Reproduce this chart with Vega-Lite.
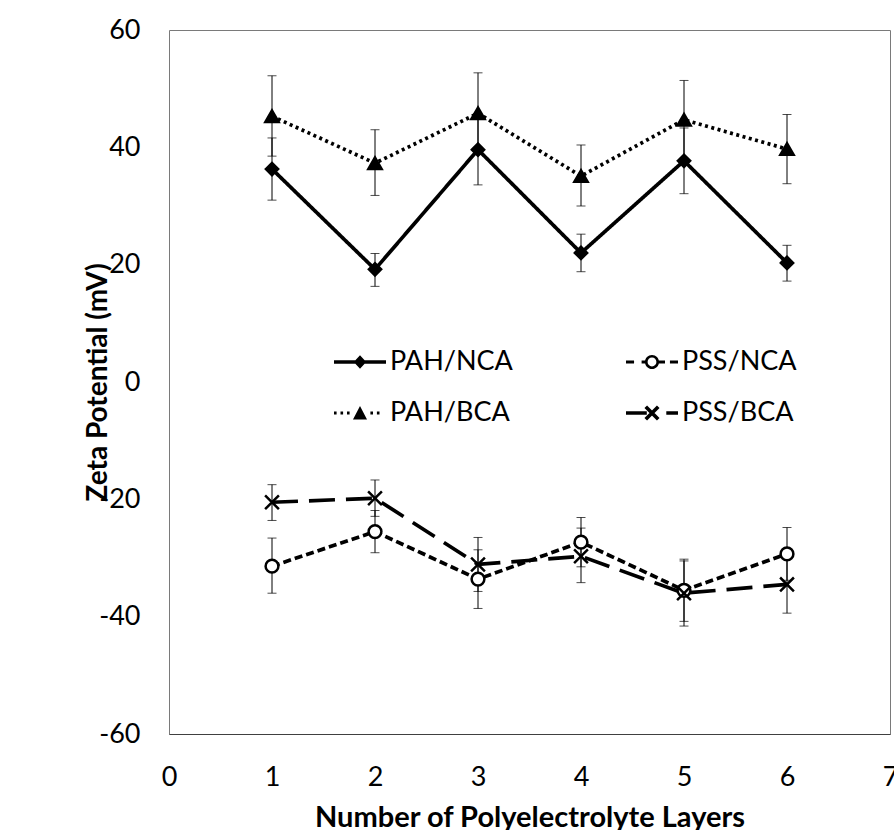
{
  "$schema": "https://vega.github.io/schema/vega-lite/v6.json",
  "width": 721,
  "height": 704,
  "autosize": {"type": "none"},
  "padding": {"left": 169, "top": 30, "right": 4, "bottom": 96},
  "background": "white",
  "config": {
    "view": {"stroke": "#7a7a7a", "strokeWidth": 1},
    "font": "Lato"
  },
  "data": {
    "values": [
      {"series": "PAH/NCA", "layer": 1, "z": 36.3, "lo": 31.0, "hi": 41.6},
      {"series": "PAH/NCA", "layer": 2, "z": 19.2, "lo": 16.3, "hi": 21.9},
      {"series": "PAH/NCA", "layer": 3, "z": 39.6, "lo": 33.6, "hi": 45.6},
      {"series": "PAH/NCA", "layer": 4, "z": 22.0, "lo": 18.8, "hi": 25.2},
      {"series": "PAH/NCA", "layer": 5, "z": 37.7, "lo": 32.1, "hi": 43.3},
      {"series": "PAH/NCA", "layer": 6, "z": 20.3, "lo": 17.2, "hi": 23.3},
      {"series": "PSS/NCA", "layer": 1, "z": -31.4, "lo": -36.0, "hi": -26.6},
      {"series": "PSS/NCA", "layer": 2, "z": -25.5, "lo": -29.1, "hi": -21.9},
      {"series": "PSS/NCA", "layer": 3, "z": -33.6, "lo": -38.6, "hi": -28.6},
      {"series": "PSS/NCA", "layer": 4, "z": -27.3, "lo": -31.5, "hi": -23.1},
      {"series": "PSS/NCA", "layer": 5, "z": -35.5, "lo": -40.8, "hi": -30.2},
      {"series": "PSS/NCA", "layer": 6, "z": -29.3, "lo": -33.8, "hi": -24.8},
      {"series": "PAH/BCA", "layer": 1, "z": 45.3, "lo": 38.5, "hi": 52.2},
      {"series": "PAH/BCA", "layer": 2, "z": 37.3, "lo": 31.8, "hi": 43.0},
      {"series": "PAH/BCA", "layer": 3, "z": 45.8, "lo": 38.9, "hi": 52.7},
      {"series": "PAH/BCA", "layer": 4, "z": 35.1, "lo": 30.0, "hi": 40.4},
      {"series": "PAH/BCA", "layer": 5, "z": 44.7, "lo": 38.0, "hi": 51.4},
      {"series": "PAH/BCA", "layer": 6, "z": 39.7, "lo": 33.8, "hi": 45.6},
      {"series": "PSS/BCA", "layer": 1, "z": -20.5, "lo": -23.6, "hi": -17.5},
      {"series": "PSS/BCA", "layer": 2, "z": -19.8, "lo": -22.9, "hi": -16.7},
      {"series": "PSS/BCA", "layer": 3, "z": -31.1, "lo": -35.7, "hi": -26.5},
      {"series": "PSS/BCA", "layer": 4, "z": -29.7, "lo": -34.2, "hi": -24.9},
      {"series": "PSS/BCA", "layer": 5, "z": -36.0, "lo": -41.6, "hi": -30.5},
      {"series": "PSS/BCA", "layer": 6, "z": -34.5, "lo": -39.4, "hi": -29.6}
    ]
  },
  "encoding": {
    "x": {
      "field": "layer",
      "type": "quantitative",
      "scale": {"domain": [0, 7], "nice": false},
      "axis": {
        "values": [0, 1, 2, 3, 4, 5, 6, 7],
        "labelExpr": "'' + datum.value",
        "labelFontSize": 27,
        "labelColor": "black",
        "labelPadding": 30,
        "labelFlush": false,
        "labelOverlap": false,
        "ticks": false,
        "grid": false,
        "domainColor": "#404040",
        "title": "Number of Polyelectrolyte Layers",
        "titleFontSize": 29,
        "titleFontWeight": "bold",
        "titleColor": "black",
        "titlePadding": 13
      }
    }
  },
  "layer": [
    {
      "mark": {
        "type": "errorbar",
        "ticks": {"size": 9, "thickness": 1, "color": "black"},
        "rule": {"strokeWidth": 1, "color": "black"}
      },
      "encoding": {
        "y": {
          "field": "lo",
          "type": "quantitative",
          "title": "Zeta Potential (mV)",
          "scale": {"domain": [-60, 60], "nice": false},
          "axis": {
            "values": [-60, -40, -20, 0, 20, 40, 60],
            "labelExpr": "'' + datum.value",
            "labelFontSize": 27,
            "labelColor": "black",
            "labelPadding": 29,
            "labelFlush": false,
            "labelOverlap": false,
            "ticks": false,
            "grid": false,
            "domain": false,
            "titleFontSize": 28,
            "titleFontWeight": "bold",
            "titleColor": "black",
            "titleAngle": -90,
            "titleX": -71,
            "titleY": 352,
            "titleAlign": "center",
            "titleBaseline": "middle"
          }
        },
        "y2": {"field": "hi"}
      }
    },
    {
      "mark": {"type": "line", "strokeWidth": 3.7, "color": "black", "strokeCap": "butt"},
      "encoding": {
        "y": {"field": "z", "type": "quantitative", "title": "Zeta Potential (mV)"},
        "strokeDash": {
          "field": "series",
          "type": "nominal",
          "scale": {
            "domain": ["PAH/NCA", "PSS/NCA", "PAH/BCA", "PSS/BCA"],
            "range": [[1, 0], [8, 4], [3, 3.5], [26, 11]]
          },
          "legend": null
        }
      }
    },
    {
      "mark": {"type": "point", "filled": true, "stroke": "black", "strokeWidth": 2.5, "opacity": 1},
      "encoding": {
        "y": {"field": "z", "type": "quantitative", "title": "Zeta Potential (mV)"},
        "shape": {
          "field": "series",
          "type": "nominal",
          "scale": {
            "domain": ["PAH/NCA", "PSS/NCA", "PAH/BCA", "PSS/BCA"],
            "range": ["diamond", "circle", "triangle-up", "M-1,-1L1,1M-1,1L1,-1"]
          },
          "legend": null
        },
        "fill": {
          "field": "series",
          "type": "nominal",
          "scale": {
            "domain": ["PAH/NCA", "PSS/NCA", "PAH/BCA", "PSS/BCA"],
            "range": ["black", "white", "black", "black"]
          },
          "legend": null
        },
        "size": {
          "field": "series",
          "type": "nominal",
          "scale": {
            "domain": ["PAH/NCA", "PSS/NCA", "PAH/BCA", "PSS/BCA"],
            "range": [150, 190, 200, 170]
          },
          "legend": null
        }
      }
    },
    {
      "transform": [{"filter": "datum.layer < 0"}],
      "mark": {"type": "point", "filled": true, "color": "black", "opacity": 1},
      "encoding": {
        "y": {"field": "z", "type": "quantitative", "title": "Zeta Potential (mV)"},
        "shape": {
          "field": "series",
          "type": "nominal",
          "scale": {
            "domain": ["PAH/NCA", "PSS/NCA", "PAH/BCA", "PSS/BCA"],
            "range": [
              "M-1,-0.07H1V0.07H-1ZM-0.24,0L0,-0.26L0.24,0L0,0.26Z",
              "M-1,-0.06H-0.69V0.06H-1ZM-0.4,-0.06H-0.25V0.06H-0.4ZM0.25,-0.06H0.5V0.06H0.25ZM0.69,-0.06H1V0.06H0.69ZM0.27,0A0.27,0.27 0 1 1 -0.27,0A0.27,0.27 0 1 1 0.27,0ZM0.17,0A0.17,0.17 0 1 0 -0.17,0A0.17,0.17 0 1 0 0.17,0Z",
              "M-1,-0.06H-0.9V0.06H-1ZM-0.75,-0.06H-0.65V0.06H-0.75ZM-0.5,-0.06H-0.4V0.06H-0.5ZM0.4,-0.06H0.5V0.06H0.4ZM0.65,-0.06H0.75V0.06H0.65ZM-0.27,0.25L0,-0.27L0.27,0.25Z",
              "M-1,-0.065H-0.2V0.065H-1ZM-0.19,-0.29L0.29,0.19L0.19,0.29L-0.29,-0.19ZM0.19,-0.29L0.29,-0.19L-0.19,0.29L-0.29,0.19ZM0.55,-0.065H1V0.065H0.55Z"
            ]
          },
          "legend": {
            "orient": "none",
            "legendX": 165,
            "legendY": 306,
            "columns": 2,
            "direction": "horizontal",
            "title": null,
            "padding": 0,
            "symbolSize": 2704,
            "symbolOpacity": 1,
            "symbolFillColor": "black",
            "symbolStrokeWidth": 0,
            "labelFont": "Lato",
            "labelFontSize": 27,
            "labelColor": "black",
            "labelOffset": 4,
            "labelLimit": 400,
            "columnPadding": 113,
            "rowPadding": 12
          }
        }
      }
    }
  ],
  "resolve": {"scale": {"shape": "independent"}}
}
